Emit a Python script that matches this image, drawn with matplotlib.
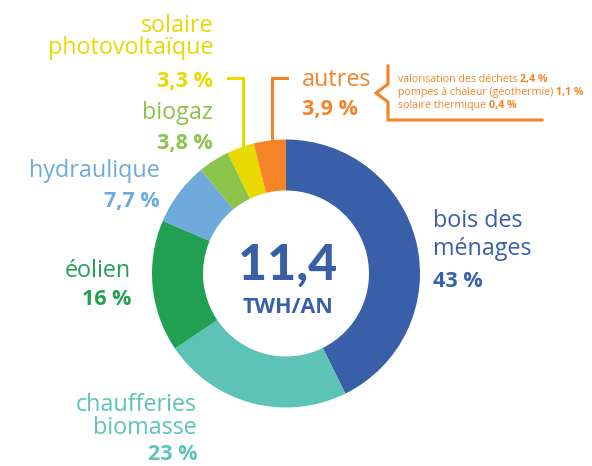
import matplotlib.pyplot as plt

# parts of the 11,4 TWh/an, clockwise from 12 o'clock
labels = ["bois des\nménages", "chaufferies\nbiomasse", "éolien", "hydraulique",
          "biogaz", "solaire\nphotovoltaïque", "autres"]
values = [43, 23, 16, 7.7, 3.8, 3.3, 3.9]
pct_text = ["43 %", "23 %", "16 %", "7,7 %", "3,8 %", "3,3 %", "3,9 %"]
colors = ["#3a5fa9", "#5ec3b7", "#20a050", "#6eaadc", "#8cc34b", "#e8d900", "#f58429"]

autres_detail = ["valorisation des déchets", "pompes à chaleur (géothermie)", "solaire thermique"]
autres_values = ["2,4 %", "1,1 %", "0,4 %"]

total = "11,4"
unit = "TWH/AN"

W, H = 592, 466
FONT = "Open Sans"


def Y(y):
    # picture rows -> data y
    return H - y


fig = plt.figure(figsize=(W / 100, H / 100), dpi=100)
ax = fig.add_axes([0, 0, 1, 1])

ax.pie(values, colors=colors, startangle=90, counterclock=False,
       radius=134, center=(286, Y(273.5)),
       wedgeprops=dict(width=51, linewidth=0))

ax.set_xlim(0, W)
ax.set_ylim(0, H)
ax.set_aspect("equal")
ax.axis("off")

# label placement: x, baselines of the name lines, baseline of the percent
spots = [(433, "left", [227, 255], 287),
         (197, "right", [411, 434], 460),
         (131, "right", [277], 305),
         (160, "right", [177], 207),
         (213, "right", [119], 149),
         (213, "right", [32, 54], 87),
         (302, "left", [86], 115)]
for lab, pct, col, (x, ha, ys, yp) in zip(labels, pct_text, colors, spots):
    for ln, yb in zip(lab.split("\n"), ys):
        ax.text(x, Y(yb), ln, color=col, ha=ha, va="baseline",
                fontsize=16.8, family=FONT)
    ax.text(x, Y(yp), pct, color=col, ha=ha, va="baseline",
            fontsize=15.5, family=FONT, fontweight="bold")

# leader lines for the two small slices
ax.plot([228, 243, 243], [Y(78), Y(78), Y(146)], color=colors[5], lw=2.2,
        solid_joinstyle="miter")
ax.plot([287, 272, 272], [Y(78), Y(78), Y(143)], color=colors[6], lw=2.2,
        solid_joinstyle="miter")

# brace for autres detail
ax.plot([388, 388, 376, 388, 388, 542],
        [Y(66), Y(84), Y(93), Y(102), Y(120), Y(120)],
        color=colors[6], lw=2.2, solid_joinstyle="miter")

renderer = fig.canvas.get_renderer()
inv = ax.transData.inverted()
for i, (d, v) in enumerate(zip(autres_detail, autres_values)):
    yb = Y(82 + i * 13)
    t = ax.text(398, yb, d + " ", color=colors[6], ha="left", va="baseline",
                fontsize=7.7, family=FONT)
    x_end = inv.transform(t.get_window_extent(renderer).get_points())[1, 0]
    ax.text(x_end, yb, v, color=colors[6], ha="left", va="baseline",
            fontsize=7.7, family=FONT, fontweight="bold")

# centre text
ax.text(288, Y(280), total, color=colors[0], ha="center", va="baseline",
        fontsize=36, family="Lato", fontweight="black")
ax.text(288, Y(313), unit, color=colors[0], ha="center", va="baseline",
        fontsize=15.5, family=FONT, fontweight="bold")

fig.savefig("out.png", dpi=100)
